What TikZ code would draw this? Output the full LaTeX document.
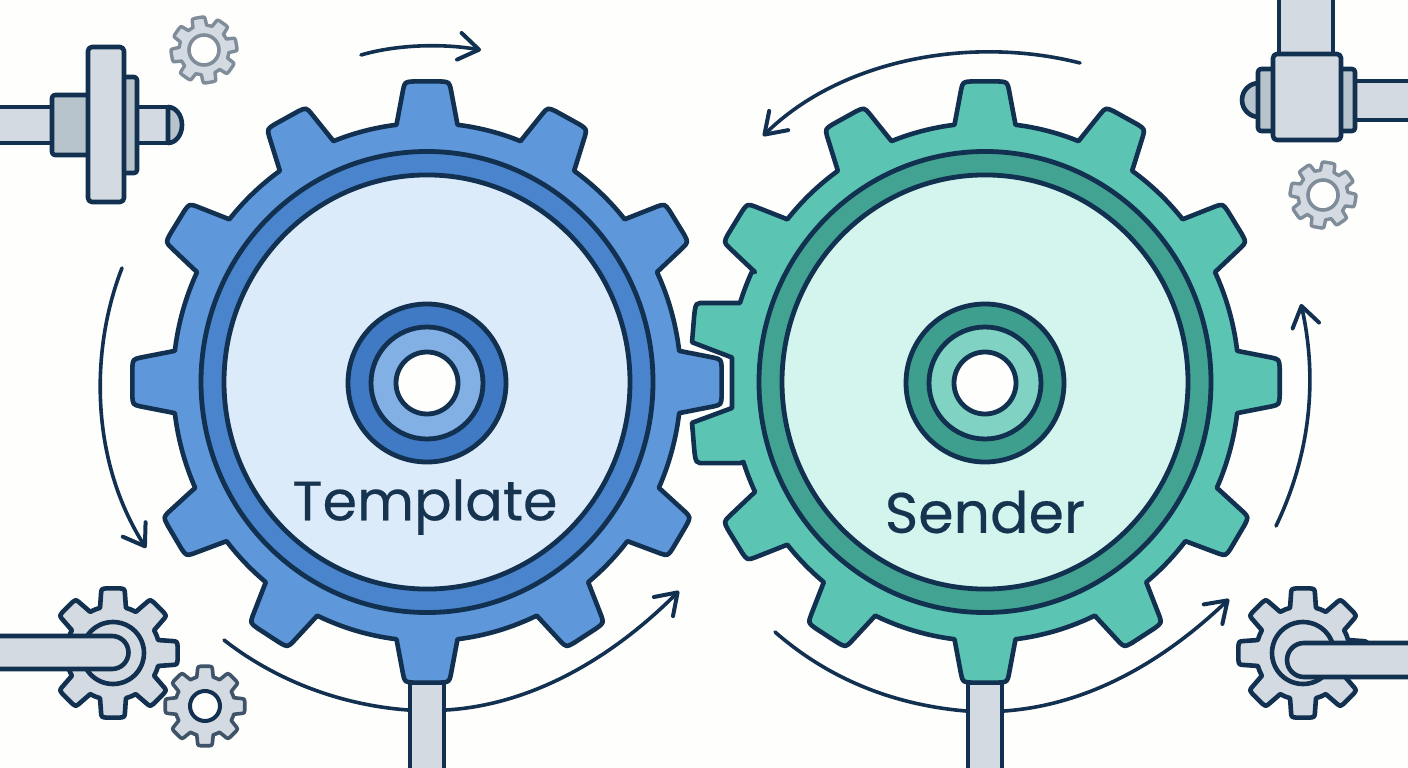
\documentclass[tikz,border=0pt]{standalone}
\usepackage{fontspec}
\setmainfont{Poppins}
\newfontfamily\labelfont{Poppins}[FakeBold=0.35]
\usetikzlibrary{arrows.meta}
\definecolor{ink}{HTML}{12304F}
\definecolor{labelink}{HTML}{16334F}
\definecolor{paper}{HTML}{FEFEFD}
\definecolor{steel}{HTML}{D4DAE1}
\definecolor{steeldark}{HTML}{B8C4CC}
\definecolor{softgrey}{HTML}{7F8C99}
\definecolor{slategrey}{HTML}{3F5468}
\definecolor{bluebody}{HTML}{5F97DB}
\definecolor{bluering}{HTML}{4A84CC}
\definecolor{bluelight}{HTML}{DCEBFA}
\definecolor{bluehub}{HTML}{4079C4}
\definecolor{bluemid}{HTML}{82B0E5}
\definecolor{greenbody}{HTML}{5CC4B3}
\definecolor{greenring}{HTML}{43A392}
\definecolor{greenlight}{HTML}{D3F5EE}
\definecolor{greenhub}{HTML}{3F9F8E}
\definecolor{greenmid}{HTML}{80D2C3}
\tikzset{
  part/.style={draw=ink,line width=4.6pt,line join=round},
  bar/.style={part,fill=steel},
  block/.style={part,fill=steeldark,rounded corners=3pt},
  plate/.style={part,fill=steel,rounded corners=4pt},
  rim/.style={part,line width=4.8pt},
  motion/.style={draw=ink,line width=3.6pt,line cap=round,
    -{Straight Barb[length=20pt,width=27pt,line width=4pt,round]}},
  sweep/.style={draw=ink,line width=3.6pt,line cap=round},
  caption/.style={text=labelink,inner sep=0pt}
}
% One run of teeth: root radius, tip radius, half-angle at root, half-angle at tip,
% then start/next angle pairs; the root circle is followed between two teeth.
\newcommand{\toothrun}[5]{%
  \foreach \a/\b in {#5} {
    -- ({\a-#3}:#1)
    -- ({\a-#4-0.18*(#3-#4)}:{#2-0.18*(#2-#1)})
    .. controls ({\a-#4}:#2) .. ({\a-0.6*#4}:#2)
    -- ({\a+0.6*#4}:#2)
    .. controls ({\a+#4}:#2) .. ({\a+#4+0.18*(#3-#4)}:{#2-0.18*(#2-#1)})
    -- ({\a+#3}:#1)
    arc[start angle=\a+#3,end angle=\b-#3,radius=#1]
  }}
% Eight-toothed gear around the current origin: style, root, tip, half-root, half-tip, first tooth
\newcommand{\eighttooth}[6]{%
  \pgfmathsetmacro{\oa}{#6}
  \pgfmathsetmacro{\ob}{#6+45}\pgfmathsetmacro{\oc}{#6+90}\pgfmathsetmacro{\od}{#6+135}
  \pgfmathsetmacro{\oe}{#6+180}\pgfmathsetmacro{\of}{#6+225}\pgfmathsetmacro{\og}{#6+270}
  \pgfmathsetmacro{\oh}{#6+315}\pgfmathsetmacro{\oi}{#6+360}
  \draw[#1] ({\oa-#4}:#2)
    \toothrun{#2}{#3}{#4}{#5}{\oa/\ob,\ob/\oc,\oc/\od,\od/\oe,\oe/\of,\of/\og,\og/\oh,\oh/\oi} -- cycle;}
\begin{document}
\begin{tikzpicture}[x=1pt,y=-1pt]
\useasboundingbox (0,0) rectangle (1408,768);
\fill[paper] (0,0) rectangle (1408,768);

% Shaft assembly, upper left
\draw[bar] (-4,107) rectangle (52,143);
\draw[bar] (137,107) -- (168,107) -- (168,143) -- (137,143) -- cycle;
\draw[part,fill=steeldark] (168,107) arc[start angle=-90,end angle=90,x radius=14,y radius=18] -- cycle;
\draw[block] (52,95) rectangle (90,155);
\draw[block] (120,77) rectangle (137,173);
\draw[plate] (88,47) rectangle (124,202);

% Shaft assembly, upper right
\draw[bar] (1279,-4) rectangle (1333,55);
\draw[bar] (1353,81) rectangle (1412,120);
\draw[part,fill=steeldark] (1259,117) arc[start angle=90,end angle=270,radius=17] -- cycle;
\draw[block] (1258,69) rectangle (1274,131);
\draw[block] (1339,69) rectangle (1355,131);
\draw[plate] (1273,54) rectangle (1341,140);

% Small idle gears
\begin{scope}[shift={(204,50)}]
  \eighttooth{line width=3.4pt,draw=softgrey,fill=steel,line join=round}{25}{33}{16}{11}{350}
  \draw[line width=3.6pt,draw=softgrey,fill=paper] (0,0) circle[radius=15];
\end{scope}
\begin{scope}[shift={(1323,195)}]
  \eighttooth{line width=3.4pt,draw=softgrey,fill=steel,line join=round}{25}{33}{16}{11}{10}
  \draw[line width=3.6pt,draw=softgrey,fill=paper] (0,0) circle[radius=15];
\end{scope}
\begin{scope}[shift={(205,706)}]
  \eighttooth{line width=3.6pt,draw=slategrey,fill=steel,line join=round}{30}{40}{16}{10}{0}
  \draw[line width=4pt,draw=ink,fill=paper] (0,0) circle[radius=15];
\end{scope}

% Driven gear and crank, lower left
\begin{scope}[shift={(113,653)}]
  \eighttooth{part,fill=steel}{47}{65}{16}{10}{0}
  \draw[part,fill=steel] (0,0) circle[radius=31];
\end{scope}
\draw[bar] (-4,636) -- (112,636) arc[start angle=-90,end angle=90,radius=16.5] -- (-4,669) -- cycle;

% Driven gear and crank, lower right
\begin{scope}[shift={(1303,653)}]
  \eighttooth{part,fill=steel}{47}{65}{16}{10}{0}
  \draw[part,fill=steel] (0,0) circle[radius=31];
\end{scope}
\draw[bar] (1412,643) -- (1304,643) arc[start angle=270,end angle=90,radius=17] -- (1412,677) -- cycle;

% Output shafts below the main gears
\draw[bar] (410,670) rectangle (444,776);
\draw[bar] (968,670) rectangle (1002,776);

% Main gear on the left
\begin{scope}[shift={(427,382)},yscale=1.02]
  \draw[part,fill=bluebody] (-6.9:254)
    \toothrun{254}{295}{6.9}{4.3}{0/31,31/57.5,57.5/90,90/122.5,122.5/149,149/180,180/212,212/241.5,241.5/270,270/298.5,298.5/328,328/360} -- cycle;
  \draw[rim,fill=bluering] (0,0) circle[radius=226];
  \draw[rim,fill=bluelight] (0,0) circle[radius=203];
\end{scope}
\draw[rim,fill=bluehub] (427,383) circle[radius=79];
\draw[rim,fill=bluemid] (427,383) circle[radius=56];
\draw[rim,fill=paper] (427,383) circle[radius=31];

% Main gear on the right, its left flank notched around the neighbouring tooth
\begin{scope}[shift={(985,382)},yscale=1.02]
  \draw[part,fill=greenbody] (-245,-77.5) arc[start angle=197.6,end angle=205.1,radius=257]
    \toothrun{254}{295}{6.9}{4.3}{212/241.5,241.5/270,270/298.5,298.5/328,328/360,360/391,391/417.5,417.5/450,450/482.5,482.5/508,508/528.9}
    -- (-245,79.5) -- (-285,79.5)
    .. controls (-291,79.5) and (-290,72) .. (-293,40)
    -- (-253,25.5) -- (-253,-24) -- (-293,-39)
    .. controls (-290,-72) and (-291,-77.5) .. (-285,-77.5)
    -- cycle;
  \draw[rim,fill=greenring] (0,0) circle[radius=226];
  \draw[rim,fill=greenlight] (0,0) circle[radius=203];
\end{scope}
\draw[rim,fill=greenhub] (985,383) circle[radius=79];
\draw[rim,fill=greenmid] (985,383) circle[radius=56];
\draw[rim,fill=paper] (985,383) circle[radius=31];

% Labels
\node[caption,font=\labelfont\fontsize{55.5}{60}\selectfont] (templatelabel) at (425,507) {Template};
\node[caption,font=\labelfont\fontsize{57}{60}\selectfont] (senderlabel) at (985,512) {Sender};

% Rotation arrows
\draw[motion] (361,55) .. controls (395,45) and (440,43) .. (481,50);
\draw[motion] (1080,63) .. controls (970,35) and (840,60) .. (763,136);
\draw[motion] (122,268) .. controls (90,350) and (90,460) .. (146,548);
\draw[sweep] (224,640) .. controls (275,680) and (340,705) .. (408,710);
\draw[motion] (446,710) .. controls (530,705) and (610,660) .. (679,591);
\draw[sweep] (775,632) .. controls (830,680) and (895,705) .. (966,711);
\draw[motion] (1004,711) .. controls (1090,705) and (1165,660) .. (1229,599);
\draw[motion] (1276,526) .. controls (1310,455) and (1318,380) .. (1301,304);
\end{tikzpicture}
\end{document}
